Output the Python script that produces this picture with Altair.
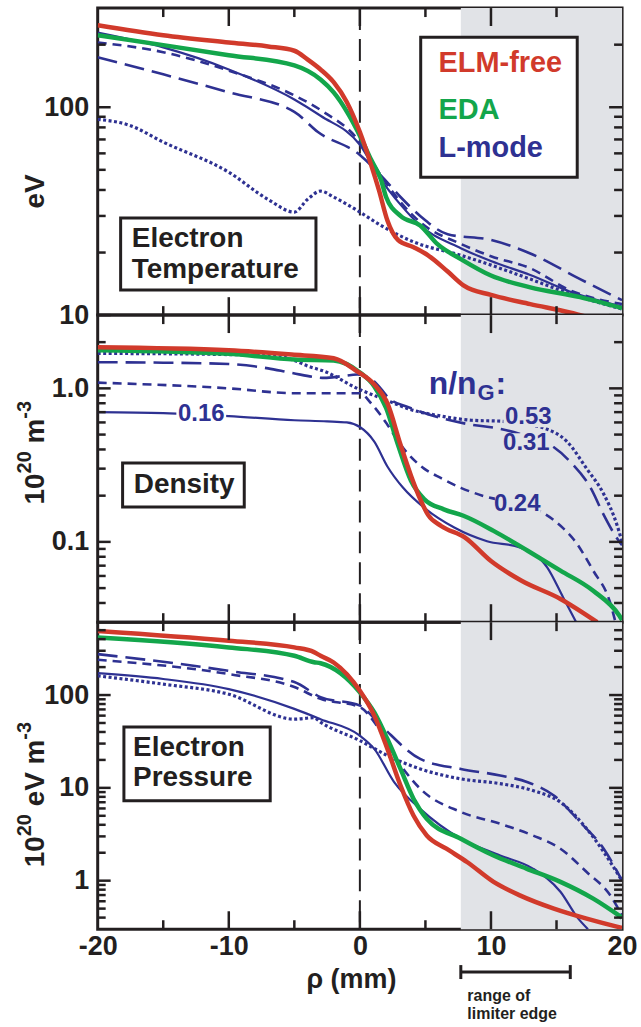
import altair as alt
import pandas as pd

# ---------------- data ----------------
# Panel 1: electron temperature (eV)
T_ELM_RHO = [-20, -15, -10, -7, -5, -4, -3, -2, -1, 0, 0.85, 1.45, 2.1, 2.9, 4.1, 5.2, 6.7, 7.9, 10, 13, 16, 17.6]
T_ELM = [248, 222, 205, 196, 187, 170, 152, 132, 106, 76, 53, 40, 28.5, 23, 21.2, 19.4, 16.2, 13.9, 12.5, 11.3, 10.3, 9.7]
T_EDA_RHO = [-20, -15, -10, -5, -3, -2, 0, 0.85, 1.6, 2, 3.1, 4.6, 5.9, 7.7, 10, 13, 16.8, 20]
T_EDA = [222, 199, 178, 159, 136, 118, 73, 56, 45, 37, 30, 27, 22, 18.6, 15.5, 13.6, 12.2, 10.8]
T_016_RHO = [-20, -15, -10, -5, -3, 0, 1.6, 3.1, 4.6, 7.7, 10, 13, 16, 20]
T_016 = [229, 194, 152, 109, 91, 66, 45, 34, 27, 21, 18.2, 15.6, 13, 11]
T_024_RHO = [-20, -15, -10, -5, -3, 0, 1.6, 3.1, 4.6, 7.7, 10, 13, 16, 20]
T_024 = [205, 184, 150, 114, 97, 68, 47, 35, 28, 22, 19.2, 16.8, 13.2, 11.3]
T_031_RHO = [-20, -15, -10, -5, -3.2, 0, 1.6, 3.1, 4.6, 6.7, 10, 13, 16.8, 20]
T_031 = [174, 144, 118, 95, 76, 59, 47, 37, 30, 24.5, 23, 19.8, 14.9, 11.8]
T_053_RHO = [-20, -17.6, -15, -10, -7, -5, -4, -3, -2, 0, 1.6, 4.1, 7.7, 10, 13, 16, 20]
T_053 = [87.5, 82, 68, 48.7, 36, 31.3, 36, 39.5, 37, 31.3, 27, 22.5, 19.4, 17.4, 14.9, 12.7, 10.7]

# Panel 2: density (1e20 m^-3)
N_ELM_RHO = [-20, -10, -5.2, -2, -0.2, 1.1, 2.1, 3.1, 3.9, 4.6, 5.2, 6.2, 8, 10, 12.3, 15.3, 18.1]
N_ELM = [1.85, 1.77, 1.66, 1.57, 1.29, 1.06, 0.80, 0.43, 0.27, 0.19, 0.15, 0.127, 0.107, 0.075, 0.056, 0.0425, 0.03]
N_EDA_RHO = [-20, -10, -5, -2, 0, 1.1, 2, 2.9, 3.9, 4.9, 6.4, 7.9, 10.2, 12.8, 15.3, 17.8, 19.8, 20]
N_EDA = [1.77, 1.68, 1.54, 1.52, 1.27, 1.03, 0.745, 0.43, 0.25, 0.19, 0.163, 0.148, 0.118, 0.0875, 0.065, 0.048, 0.033, 0.031]
N_016_RHO = [-20, -15, -10, -5, -2.5, -1, 0, 1.1, 2.1, 3.3, 4.9, 7.2, 9.7, 12.2, 14.3, 15.5, 16.5]
N_016 = [0.70, 0.69, 0.66, 0.62, 0.61, 0.60, 0.56, 0.45, 0.31, 0.225, 0.167, 0.124, 0.101, 0.092, 0.068, 0.0436, 0.03]
N_024_RHO = [-20, -10, -5, 0, 0.85, 2.1, 3.1, 4.9, 6.2, 7.7, 9.35, 12, 14.1, 15.5, 16.3, 17.8, 19.1, 19.5]
N_024 = [1.09, 1.0, 0.93, 0.93, 0.8, 0.58, 0.43, 0.30, 0.26, 0.225, 0.2, 0.177, 0.152, 0.123, 0.104, 0.065, 0.04, 0.03]
N_031_RHO = [-20, -15, -10, -7, -5.2, -2.7, -1.4, -0.2, 1.1, 2.3, 3.6, 6.2, 8.5, 10.5, 12.7, 14.5, 16, 17.6, 18.6, 19.6, 20]
N_031 = [1.48, 1.47, 1.44, 1.35, 1.26, 1.17, 1.2, 1.23, 1.11, 0.85, 0.76, 0.64, 0.58, 0.55, 0.49, 0.43, 0.336, 0.225, 0.15, 0.106, 0.095]
N_053_RHO = [-20, -10, -6, -5, -4, -2.7, -0.2, 2.3, 3.6, 6.2, 8.5, 10.9, 12.8, 14.1, 15.8, 17.3, 18.6, 19.6, 20]
N_053 = [1.69, 1.66, 1.6, 1.52, 1.4, 1.29, 1.0, 0.82, 0.74, 0.66, 0.62, 0.61, 0.58, 0.55, 0.45, 0.30, 0.205, 0.13, 0.1]

# Panel 3: electron pressure (1e20 eV m^-3)
P_ELM_RHO = [-20, -10, -5, -3.5, -3, -2, 0, 1.1, 2.1, 3.1, 4.1, 5.1, 6.6, 8.2, 10.2, 12.2, 14.8, 17.3, 19.6, 20]
P_ELM = [491, 384, 326, 290, 265, 224, 111, 60, 26.3, 10.6, 5.0, 3.07, 2.21, 1.58, 0.97, 0.695, 0.5, 0.39, 0.32, 0.31]
P_EDA_RHO = [-20, -10, -5, -3.5, -3, 0, 1.1, 2.1, 3.1, 4.1, 5.1, 7.7, 10.2, 12.7, 15.3, 17.8, 20]
P_EDA = [417, 326, 265, 226, 220, 107, 65, 33.6, 16, 7.6, 4.65, 2.83, 1.87, 1.35, 0.97, 0.64, 0.4]
P_016_RHO = [-20, -15, -10, -5, -3, 0, 1.1, 2.6, 4.6, 7.7, 10.7, 13.2, 15.3, 16.6, 17.4]
P_016 = [172, 149, 116, 71, 55, 36.5, 26.3, 11.6, 5.94, 2.83, 1.87, 1.35, 0.76, 0.4, 0.3]
P_024_RHO = [-20, -10, -5, -3, 0, 1.1, 2.6, 4.6, 7.7, 10.7, 13.2, 15.3, 17.3, 19.1, 20]
P_024 = [240, 168, 122, 91, 74, 51, 22.3, 9.8, 5.5, 4.1, 3.07, 2.21, 1.24, 0.695, 0.42]
P_031_RHO = [-20, -10, -5, -3, 0, 1.6, 4.6, 7.7, 10.7, 12.8, 14.8, 16.8, 18.6, 20]
P_031 = [276, 182, 138, 95, 77, 47, 20.5, 16, 13.6, 11.5, 8.26, 4.27, 2.21, 1.0]
P_053_RHO = [-20, -15, -10, -5, -3.5, -3, 0, 2.1, 4.6, 7.7, 10.7, 13.2, 15.3, 17.3, 20]
P_053 = [161, 131, 102, 55, 57, 51, 32.3, 22.3, 16, 12.5, 11.1, 9.35, 7.0, 3.63, 1.0]

# axes / ticks
X_LABELS = [-20, -10, 0, 10, 20]
X_MAJOR = [-10, 0, 10]
X_MINOR = [-15, -5, 5, 15]
T_DOMAIN = [10, 300]
N_DOMAIN = [0.03, 3]
P_DOMAIN = [0.3, 610]
T_LABELS = [10, 100]
N_LABELS = [0.1, 1.0]
P_LABELS = [1, 10, 100]
T_MINOR = [20, 30, 40, 50, 60, 70, 80, 90, 200]
N_MINOR = [0.04, 0.05, 0.06, 0.07, 0.08, 0.09, 0.2, 0.3, 0.4, 0.5, 0.6, 0.7, 0.8, 0.9, 2]
P_MINOR = [0.4, 0.5, 0.6, 0.7, 0.8, 0.9, 2, 3, 4, 5, 6, 7, 8, 9,
           20, 30, 40, 50, 60, 70, 80, 90, 200, 300, 400, 500]

# axis titles: (text, is_superscript) pieces, read bottom-to-top
T_TITLE = [("eV", False)]
N_TITLE = [("10", False), ("20", True), (" ", False), ("m", False), ("-3", True)]
P_TITLE = [("10", False), ("20", True), (" ", False), ("eV", False), (" ", False), ("m", False), ("-3", True)]

SHADE_FROM, SHADE_TO = 7.7, 20
LIMITER = [7.7, 16.05]

# ---------------- styling ----------------
W, H = 526, 308
FONT = "Liberation Sans"
INK = "#231f20"
RED = "#d13a2b"
GREEN = "#13a64b"
BLUE = "#2e3192"
SHADE = "#e1e3e7"
MAIN_FS, SUP_FS = 28, 20
# Liberation Sans Bold advance widths (em)
EM = {"0": .556, "1": .556, "2": .556, "3": .556, " ": .278, "-": .333, "e": .556, "V": .667, "m": .889}

XS = alt.Scale(domain=[-20, 20], nice=False, zero=False)


def x_axis(show):
    if not show:
        return None
    return alt.Axis(values=X_LABELS, labelExpr="'' + datum.value", ticks=False, domain=False,
                    grid=False, labelFlush=False, labelOverlap=False, labelFont=FONT,
                    labelFontSize=27, labelFontWeight="bold", labelColor=INK, labelPadding=4,
                    title="ρ (mm)", titleFont=FONT, titleFontSize=27, titleFontWeight="bold",
                    titleColor=INK, titleX=254, titleY=50, titleAlign="center", titleBaseline="middle")


def title_layers(pieces, yc):
    sizes = [SUP_FS if sup else MAIN_FS for _, sup in pieces]
    widths = [sum(EM[c] for c in t) * s for (t, _), s in zip(pieces, sizes)]
    total = sum(widths)
    y = yc + total / 2
    out = []
    for (t, sup), s, w in zip(pieces, sizes, widths):
        if t.strip():
            out.append(alt.Chart(pd.DataFrame({"t": [t]}))
                       .mark_text(font=FONT, fontSize=s, fontWeight="bold", color=INK, angle=270,
                                  align="left", baseline="middle")
                       .encode(x=alt.value(-73 if sup else -62), y=alt.value(y), text="t:N"))
        y -= w
    return out


def panel(series, ydom, ylabels, yfmt, yminor, ytitle, ytitle_y, texts, boxes, bgs, show_x, extra=None):
    ys = alt.Scale(type="log", domain=ydom, nice=False)
    yax = alt.Axis(values=ylabels, format=yfmt, ticks=False, domain=False, grid=False,
                   labelFont=FONT, labelFontSize=27, labelFontWeight="bold", labelColor=INK,
                   labelPadding=9, title=None)
    xax = x_axis(show_x)

    def X(f):
        return alt.X(f, type="quantitative", scale=XS, axis=xax)

    def Y(f):
        return alt.Y(f, type="quantitative", scale=ys, axis=yax)

    layers = []
    layers.append(alt.Chart(pd.DataFrame({"a": [SHADE_FROM], "b": [SHADE_TO]})).mark_rect(color=SHADE)
                  .encode(x=X("a"), x2="b:Q", y=alt.value(0), y2=alt.value(H)))
    layers.append(alt.Chart(pd.DataFrame({"a": [0]})).mark_rule(color=INK, strokeWidth=2, strokeDash=[22, 9])
                  .encode(x=X("a"), y=alt.value(0), y2=alt.value(H)))
    for rho, val, color, width, dash in series:
        kw = dict(color=color, strokeWidth=width, clip=True, interpolate="monotone")
        if dash:
            kw["strokeDash"] = dash
        layers.append(alt.Chart(pd.DataFrame({"rho": rho, "v": val})).mark_line(**kw)
                      .encode(x=X("rho"), y=Y("v")))
    for (x1, x2, y1, y2, fill) in bgs:
        layers.append(alt.Chart(pd.DataFrame({"a": [x1], "b": [x2], "c": [y1], "d": [y2]}))
                      .mark_rect(color=fill).encode(x=X("a"), x2="b:Q", y=Y("c"), y2="d:Q"))
    for (x1, x2, y1, y2) in boxes:
        layers.append(alt.Chart(pd.DataFrame({"a": [x1], "b": [x2], "c": [y1], "d": [y2]}))
                      .mark_rect(fill="white", stroke=INK, strokeWidth=3)
                      .encode(x=X("a"), x2="b:Q", y=Y("c"), y2="d:Q"))
    for (tx, ty, t, size, color, align, baseline) in texts:
        layers.append(alt.Chart(pd.DataFrame({"x": [tx], "y": [ty], "t": [t]}))
                      .mark_text(font=FONT, fontSize=size, fontWeight="bold", color=color,
                                 align=align, baseline=baseline)
                      .encode(x=X("x"), y=Y("y"), text="t:N"))
    # inward ticks on all four sides
    for vals, ln in ((ylabels, 13), (yminor, 8)):
        d = pd.DataFrame({"v": vals})
        layers.append(alt.Chart(d).mark_rule(color=INK, strokeWidth=2.5)
                      .encode(y=Y("v"), x=alt.value(0), x2=alt.value(ln)))
        layers.append(alt.Chart(d).mark_rule(color=INK, strokeWidth=2.5)
                      .encode(y=Y("v"), x=alt.value(W - ln), x2=alt.value(W)))
    for vals, ln in ((X_MAJOR, 18), (X_MINOR, 9)):
        d = pd.DataFrame({"v": vals})
        layers.append(alt.Chart(d).mark_rule(color=INK, strokeWidth=2.5)
                      .encode(x=X("v"), y=alt.value(0), y2=alt.value(ln)))
        layers.append(alt.Chart(d).mark_rule(color=INK, strokeWidth=2.5)
                      .encode(x=X("v"), y=alt.value(H - ln), y2=alt.value(H)))
    layers.extend(title_layers(ytitle, ytitle_y))
    if extra:
        layers.extend(extra(X))
    return alt.layer(*layers).properties(width=W, height=H)


SHORT = [9, 6]
LONG = [20, 8]
DOT = [3, 2.5]

p1 = panel(
    [(T_053_RHO, T_053, BLUE, 3.2, DOT), (T_031_RHO, T_031, BLUE, 2.6, LONG),
     (T_024_RHO, T_024, BLUE, 2.6, SHORT), (T_016_RHO, T_016, BLUE, 2.2, None),
     (T_EDA_RHO, T_EDA, GREEN, 4.5, None), (T_ELM_RHO, T_ELM, RED, 4.5, None)],
    T_DOMAIN, T_LABELS, "d", T_MINOR, T_TITLE, 184,
    texts=[(6.0, 163, "ELM-free", 29, RED, "left", "middle"),
           (6.0, 96.7, "EDA", 29, GREEN, "left", "middle"),
           (6.0, 63.5, "L-mode", 29, BLUE, "left", "middle"),
           (-17.4, 23.2, "Electron", 28, INK, "left", "middle"),
           (-17.4, 16.5, "Temperature", 28, INK, "left", "middle")],
    boxes=[(4.64, 16.58, 217, 46.1), (-18.25, -3.35, 29.3, 13.2)],
    bgs=[], show_x=False)

p2 = panel(
    [(N_053_RHO, N_053, BLUE, 3.2, DOT), (N_031_RHO, N_031, BLUE, 2.6, LONG),
     (N_024_RHO, N_024, BLUE, 2.6, SHORT), (N_016_RHO, N_016, BLUE, 2.2, None),
     (N_EDA_RHO, N_EDA, GREEN, 4.5, None), (N_ELM_RHO, N_ELM, RED, 4.5, None)],
    N_DOMAIN, N_LABELS, ".1f", N_MINOR, N_TITLE, 138,
    texts=[(-12.1, 0.678, "0.16", 24, BLUE, "center", "middle"),
           (12.85, 0.648, "0.53", 24, BLUE, "center", "middle"),
           (12.7, 0.44, "0.31", 24, BLUE, "center", "middle"),
           (12.0, 0.177, "0.24", 24, BLUE, "center", "middle"),
           (5.25, 0.914, "n/n", 32, BLUE, "left", "alphabetic"),
           (8.97, 0.836, "G", 22, BLUE, "left", "alphabetic"),
           (10.34, 0.914, ":", 32, BLUE, "left", "alphabetic"),
           (-13.4, 0.236, "Density", 28, INK, "center", "middle")],
    boxes=[(-18.1, -8.82, 0.326, 0.169)],
    bgs=[(-14.0, -10.2, 0.787, 0.584, "white"),
         (10.95, 14.83, 0.753, 0.558, SHADE),
         (10.95, 14.6, 0.51, 0.378, SHADE),
         (10.3, 13.8, 0.205, 0.152, SHADE)],
    show_x=False)


def bottom_extra(X):
    out = []
    out.append(alt.Chart(pd.DataFrame({"a": [LIMITER[0]], "b": [LIMITER[1]]}))
               .mark_rule(color=INK, strokeWidth=3)
               .encode(x=X("a"), x2="b:Q", y=alt.value(H + 43)))
    out.append(alt.Chart(pd.DataFrame({"a": LIMITER})).mark_rule(color=INK, strokeWidth=3)
               .encode(x=X("a"), y=alt.value(H + 36), y2=alt.value(H + 50)))
    for t, dy in (("range of", 67), ("limiter edge", 85)):
        out.append(alt.Chart(pd.DataFrame({"x": [8.2], "t": [t]}))
                   .mark_text(font=FONT, fontSize=16, fontWeight="bold", color=INK,
                              align="left", baseline="middle")
                   .encode(x=X("x"), y=alt.value(H + dy), text="t:N"))
    return out


p3 = panel(
    [(P_053_RHO, P_053, BLUE, 3.2, DOT), (P_031_RHO, P_031, BLUE, 2.6, LONG),
     (P_024_RHO, P_024, BLUE, 2.6, SHORT), (P_016_RHO, P_016, BLUE, 2.2, None),
     (P_EDA_RHO, P_EDA, GREEN, 4.5, None), (P_ELM_RHO, P_ELM, RED, 4.5, None)],
    P_DOMAIN, P_LABELS, "d", P_MINOR, P_TITLE, 173,
    texts=[(-17.3, 26.9, "Electron", 28, INK, "left", "middle"),
           (-17.3, 12.8, "Pressure", 28, INK, "left", "middle")],
    boxes=[(-18.0, -6.84, 45.3, 7.26)],
    bgs=[], show_x=True, extra=bottom_extra)

chart = (alt.vconcat(p1, p2, p3, spacing=0, bounds="flush")
         .properties(padding={"left": 13, "top": 3.5, "right": 2, "bottom": 0})
         .configure(font=FONT, background="white")
         .configure_view(stroke=INK, strokeWidth=3))

chart.save("out.html", embed_options={"renderer": "svg", "actions": False})
